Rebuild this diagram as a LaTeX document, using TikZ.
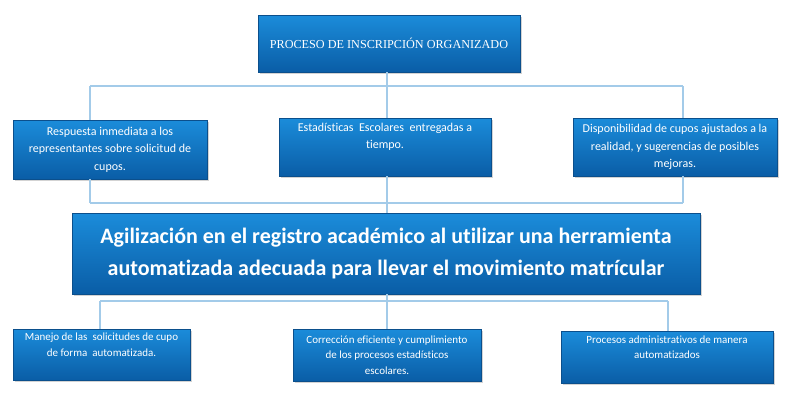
\documentclass[tikz,border=0pt]{standalone}
\usepackage{fontspec}
\setmainfont{Carlito}[Ligatures=NoCommon]
\newfontfamily\serifnode{Liberation Serif}
\usetikzlibrary{shadows}
\definecolor{boxtop}{HTML}{1B8CDA}
\definecolor{boxbot}{HTML}{0A5DA6}
\definecolor{boxline}{HTML}{0B4F8C}
\definecolor{conncol}{HTML}{A3CBE9}
\tikzset{
  bluebox/.style={draw=boxline, line width=0.6pt, top color=boxtop, bottom color=boxbot,
    text=white, align=center, inner sep=2pt,
    drop shadow={opacity=0.35, shadow xshift=1.5pt, shadow yshift=-1.5pt}},
  lvone/.style={bluebox, font=\fontsize{12}{17.5}\selectfont},
  lvtwo/.style={bluebox, font=\fontsize{11}{15.5}\selectfont},
  conn/.style={draw=conncol, line width=1.4pt}
}
\begin{document}
\begin{tikzpicture}[x=1pt,y=-1pt]
\useasboundingbox (0,0) rectangle (792,410);
% boxes
\node[bluebox, minimum width=262pt, minimum height=57pt,
  font=\serifnode\fontsize{12.2}{14}\selectfont] (top) at (389,43.5) {PROCESO DE INSCRIPCIÓN ORGANIZADO};
\node[lvone, minimum width=194pt, minimum height=59pt] (a1) at (110,149.5)
  {Respuesta inmediata a los\\representantes sobre solicitud de\\cupos.};
\node[lvone, minimum width=212pt, minimum height=58pt] (a2) at (385,147)
  {Estadísticas\ \ Escolares\ \ entregadas a\\tiempo.\\\strut};
\node[lvone, minimum width=204pt, minimum height=58pt] (a3) at (675,147)
  {Disponibilidad de cupos ajustados a la\\realidad, y sugerencias de posibles\\mejoras.};
\node[bluebox, minimum width=628pt, minimum height=81pt,
  font=\bfseries\fontsize{22}{32}\selectfont] (big) at (386,253.5)
  {Agilización en el registro académico al utilizar una herramienta\\automatizada adecuada para llevar el movimiento matrícular};
\node[lvtwo, minimum width=177pt, minimum height=51pt] (b1) at (101.5,354.5)
  {Manejo de las\ \ solicitudes de cupo\\de forma\ \ automatizada.\\\strut};
\node[lvtwo, minimum width=188pt, minimum height=52pt] (b2) at (387,355)
  {Corrección eficiente y cumplimiento\\de los procesos estadísticos\\escolares.};
\node[lvtwo, minimum width=212pt, minimum height=52pt] (b3) at (667,357)
  {Procesos administrativos de manera\\automatizados\\\strut};
% bus coordinates
\coordinate (u1) at (90,86);
\coordinate (u2) at (387,86);
\coordinate (u3) at (683,86);
\coordinate (v1) at (90,203);
\coordinate (v2) at (387,203);
\coordinate (v3) at (683,203);
\coordinate (w1) at (100,301);
\coordinate (w2) at (387,301);
\coordinate (w3) at (668,301);
% connectors level 0 -> 1
\draw[conn] (u2 |- top.south) -- (u2);
\draw[conn] (u1) -- (u3);
\draw[conn] (u1) -- (u1 |- a1.north);
\draw[conn] (u2) -- (u2 |- a2.north);
\draw[conn] (u3) -- (u3 |- a3.north);
% level 1 -> big
\draw[conn] (v1 |- a1.south) -- (v1);
\draw[conn] (v2 |- a2.south) -- (v2);
\draw[conn] (v3 |- a3.south) -- (v3);
\draw[conn] (v1) -- (v3);
\draw[conn] (v2) -- (v2 |- big.north);
% big -> level 2
\draw[conn] (w2 |- big.south) -- (w2);
\draw[conn] (w1) -- (w3);
\draw[conn] (w1) -- (w1 |- b1.north);
\draw[conn] (w2) -- (w2 |- b2.north);
\draw[conn] (w3) -- (w3 |- b3.north);
\end{tikzpicture}
\end{document}
